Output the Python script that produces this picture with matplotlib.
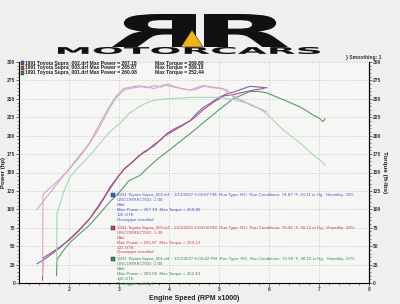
import matplotlib
matplotlib.use("Agg")
import matplotlib.pyplot as plt
from matplotlib.textpath import TextPath
from matplotlib.patches import PathPatch, Rectangle, Polygon
from matplotlib.font_manager import FontProperties
from matplotlib.transforms import Affine2D
from matplotlib.ticker import MultipleLocator

plt.rcParams["font.family"] = ["Liberation Sans", "DejaVu Sans"]

# ---------------- data ----------------
rpm_002 = [1.36, 1.5, 1.65, 1.82, 2.0, 2.2, 2.42, 2.55, 2.68, 2.82, 2.96, 3.1, 3.25, 3.4, 3.55,
           3.7, 3.85, 3.96, 4.1, 4.25, 4.42, 4.55, 4.68, 4.85, 5.0, 5.16, 5.28, 5.45, 5.62, 5.8, 5.96]
tq_002 = [100, 112, 125, 140, 155, 172, 191, 208, 224, 241, 255, 264, 266, 268, 265,
          268, 266, 270, 267, 264, 262, 265, 268, 266, 265, 262, 254, 248, 242, 237, 232]
hp_002 = [26, 32, 39, 48, 59, 72, 88, 101, 114, 130, 143, 154, 163, 173, 179,
          188, 195, 203, 209, 214, 220, 230, 238, 245, 252, 257, 259, 263, 267, 266, 265]

rpm_003 = [1.47, 1.48, 1.6, 1.8, 2.0, 2.2, 2.4, 2.6, 2.8, 2.95, 3.1, 3.3, 3.5, 3.7, 3.9,
           4.1, 4.3, 4.5, 4.7, 4.9, 5.1, 5.3, 5.5, 5.7, 5.9]
tq_003 = [10, 120, 128, 140, 154, 170, 188, 210, 236, 252, 262, 265, 267, 264, 269,
          266, 263, 262, 267, 265, 263, 252, 246, 240, 234]
hp_003 = [4, 34, 39, 48, 58, 71, 86, 104, 126, 141, 155, 166, 178, 186, 199,
          207, 215, 224, 236, 246, 254, 256, 259, 262, 264]

rpm_001 = [1.75, 1.76, 1.9, 2.02, 2.2, 2.4, 2.6, 2.8, 3.02, 3.2, 3.42, 3.6, 3.8, 3.96, 4.2,
           4.5, 4.8, 5.0, 5.28, 5.45, 5.62, 5.8, 5.96, 6.1, 6.28, 6.45, 6.62, 6.75, 6.88,
           7.0, 7.08, 7.12]
tq_001 = [30, 95, 125, 144, 158, 172, 188, 204, 217, 230, 240, 246, 249, 250, 251,
          252, 252, 252, 249, 246, 243, 237, 229, 220, 208, 199, 190, 182, 174,
          168, 163, 160]
hp_001 = [10, 32, 45, 55, 66, 78, 93, 109, 124, 139, 146, 158, 170, 178, 191,
          207, 224, 235, 250, 255, 260, 260, 258, 254, 249, 244, 239, 234, 228,
          224, 219, 223]

legend_names = ["1991 Toyota Supra_002.drf", "1991 Toyota Supra_003.drf", "1991 Toyota Supra_001.drf"]
max_power = ["267.18", "265.87", "260.08"]
max_torque = ["269.80", "269.19", "252.44"]
run_times = ["1/13/2007 6:08:07 PM", "1/13/2007 6:09:00 PM", "1/13/2007 6:04:42 PM"]
run_cond = ["74.87 °F, 30.11 in Hg,  Humidity: 33%", "78.46 °F, 30.12 in Hg,  Humidity: 28%",
            "72.98 °F, 30.10 in Hg,  Humidity: 37%"]

x_ticks = [2, 3, 4, 5, 6, 7, 8]
y_ticks = list(range(0, 301, 25))

# ---------------- styles ----------------
bg = "#efefed"
pw_cols = ["#7868b0", "#b0507c", "#5a9a72"]
tq_cols = ["#b8b0dc", "#dca8c4", "#a6d6ba"]
txt_cols = ["#4a5cc0", "#d04050", "#3a8a50"]

fig = plt.figure(figsize=(4.0, 3.04), dpi=100, facecolor=bg)
W, H = 400.0, 304.0
ax = fig.add_axes([19 / W, 1 - 283 / H, 350 / W, 221 / H])
ax.set_facecolor("#f6f6f4")
ax.set_xlim(1, 8)
ax.set_ylim(0, 300)
ax2 = ax.twinx()
ax2.set_ylim(0, 300)

for i, (r, t, p) in enumerate([(rpm_002, tq_002, hp_002), (rpm_003, tq_003, hp_003), (rpm_001, tq_001, hp_001)]):
    ax2.plot(r, t, color=tq_cols[i], lw=0.8)
    ax.plot(r, p, color=pw_cols[i], lw=0.8)

ax.set_xticks(x_ticks)
ax.set_yticks(y_ticks)
ax2.set_yticks(y_ticks)
ax.xaxis.set_minor_locator(MultipleLocator(0.2))
ax.yaxis.set_minor_locator(MultipleLocator(5))
ax2.yaxis.set_minor_locator(MultipleLocator(5))
ax.grid(True, which="major", color="#b8b8b8", linestyle=(0, (1, 2)), lw=0.6)
for a in (ax, ax2):
    a.spines["top"].set_visible(False)
    a.tick_params(labelsize=3.5, length=2, width=0.5, pad=0.8, colors="#333333")
    a.tick_params(which="minor", length=1.2, width=0.4, colors="#333333")
ax.spines["left"].set_linewidth(0.8)
ax.spines["bottom"].set_linewidth(0.8)
ax2.spines["right"].set_linewidth(0.8)
ax2.spines["left"].set_visible(False)
ax2.spines["bottom"].set_visible(False)
for lab in ax.get_xticklabels() + ax.get_yticklabels() + ax2.get_yticklabels():
    lab.set_fontweight("bold")

ax.set_xlabel("Engine Speed (RPM x1000)", fontsize=5, fontweight="bold", labelpad=2, color="#222222")
fig.text(3.2 / W, 1 - 172 / H, "Power (hp)", fontsize=4.3, fontweight="bold", rotation=90,
         ha="center", va="center", color="#222222")
fig.text(384 / W, 1 - 172 / H, "Torque (ft-lbs)", fontsize=4.5, fontweight="bold", rotation=-90,
         ha="center", va="center", color="#222222")

# top legend
for i in range(3):
    y = 1 - (63 + 5 * i) / H
    fig.patches.append(Rectangle((20.5 / W, y - 1.8 / H), 3.5 / W, 3.6 / H, transform=fig.transFigure,
                                 facecolor=txt_cols[i], edgecolor="#222222", lw=0.3))
    fig.text(25 / W, y, f"{legend_names[i]} Max Power = {max_power[i]}", fontsize=3.6,
             fontweight="bold", va="center", color="#222222")
    fig.text(155 / W, y, f"Max Torque = {max_torque[i]}", fontsize=3.6,
             fontweight="bold", va="center", color="#222222")
fig.text(346 / W, 1 - 57 / H, "} Smoothing: 1", fontsize=3.6, fontweight="bold", va="center",
         color="#333333")

# run info blocks
for i, y0 in enumerate([195, 228, 259]):
    fig.patches.append(Rectangle((111 / W, 1 - (y0 + 2) / H), 4 / W, 4 / H, transform=fig.transFigure,
                                 facecolor=txt_cols[i], edgecolor="#222222", lw=0.3))
    lines = [f"'{legend_names[i]}' : {run_times[i]}  Run Type: RO  Run Conditions: {run_cond[i]}",
             "UNCORRECTED: 1.00", "Matt",
             f"Max Power = {max_power[i]}  Max Torque = {max_torque[i]}", "1JZ-GTE",
             "Downpipe installed"]
    for k, s in enumerate(lines):
        fig.text((116 if k == 0 else 117) / W, 1 - (y0 + 4.9 * k) / H, s, fontsize=3.2,
                 va="center", color=txt_cols[i])

# logo
fp = FontProperties(family="DejaVu Sans", weight="heavy")
def put_text(s, x0, y0, w, h, color, flip=False):
    tp = TextPath((0, 0), s, size=10, prop=fp)
    bb = tp.get_extents()
    sx = w / bb.width
    sy = h / bb.height
    tr = Affine2D().translate(-bb.x0, -bb.y0).scale(sx, sy)
    if flip:
        tr = tr.scale(-1, 1).translate(w, 0)
    tr = tr.translate(x0, y0)
    path = tr.transform_path(tp)
    path = Affine2D().scale(1 / W, 1 / H).transform_path(path)
    fig.patches.append(PathPatch(path, transform=fig.transFigure, facecolor=color, edgecolor="none"))

put_text("MOTORCARS", 58, H - 54, 262, 7, "#111111")
put_text("R", 112, H - 47, 84, 33, "#111111", flip=True)
put_text("R", 204, H - 47, 84, 33, "#111111")
fig.patches.append(Polygon([(181 / W, 1 - 47 / H), (203 / W, 1 - 47 / H), (192 / W, 1 - 30 / H)],
                           closed=True, transform=fig.transFigure, facecolor="#f2b21a",
                           edgecolor="#333333", lw=0.4))

fig.savefig("out.png", dpi=100, facecolor=bg)
